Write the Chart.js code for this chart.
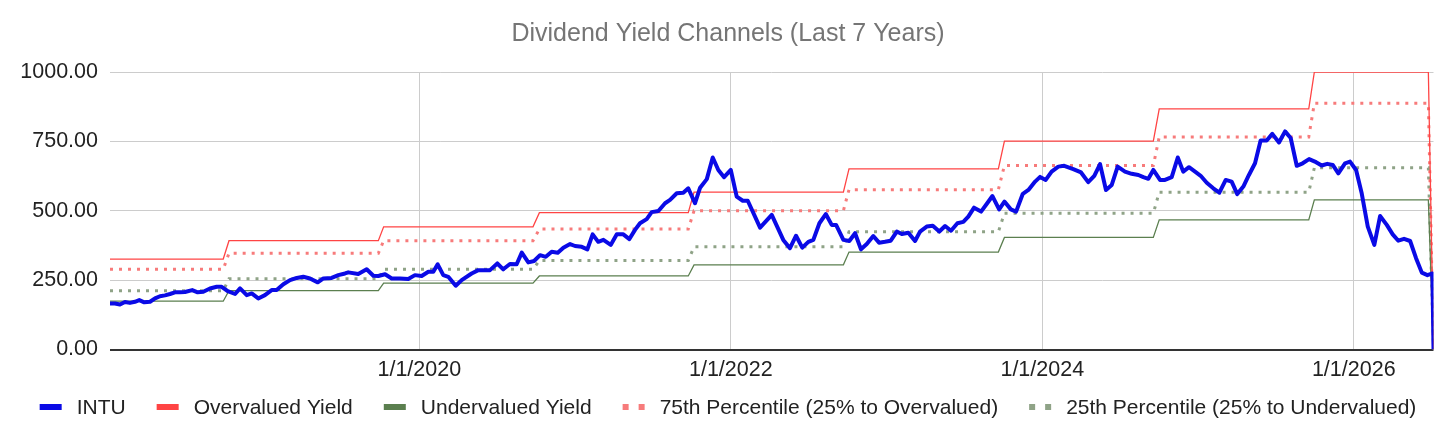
<!DOCTYPE html>
<html>
<head>
<meta charset="utf-8">
<title>Dividend Yield Channels</title>
<script src="https://cdn.jsdelivr.net/npm/chart.js@4.4.1/dist/chart.umd.min.js"></script>
<style>
  html, body { margin: 0; padding: 0; background: #fff; }
  #wrap { width: 1456px; height: 440px; }
</style>
</head>
<body>
<div id="wrap"><canvas id="yieldChart"></canvas></div>
<script>
// Dates are decimal years
const intuDates = [
  2018.014, 2018.046, 2018.078, 2018.110, 2018.142, 2018.174, 2018.202, 2018.234, 2018.271, 2018.303,
  2018.335, 2018.367, 2018.399, 2018.431, 2018.463, 2018.495, 2018.542, 2018.577, 2018.613, 2018.656,
  2018.699, 2018.731, 2018.770, 2018.817, 2018.849, 2018.892, 2018.924, 2018.966, 2019.009, 2019.052,
  2019.084, 2019.127, 2019.170, 2019.213, 2019.255, 2019.298, 2019.348, 2019.384, 2019.437, 2019.480,
  2019.523, 2019.544, 2019.608, 2019.662, 2019.705, 2019.737, 2019.780, 2019.823, 2019.876, 2019.929,
  2019.972, 2020.015, 2020.058, 2020.090, 2020.118, 2020.154, 2020.186, 2020.234, 2020.272, 2020.336,
  2020.379, 2020.454, 2020.501, 2020.539, 2020.582, 2020.625, 2020.658, 2020.700, 2020.737, 2020.775,
  2020.812, 2020.850, 2020.889, 2020.925, 2020.968, 2021.000, 2021.043, 2021.079, 2021.113, 2021.149,
  2021.182, 2021.229, 2021.268, 2021.310, 2021.349, 2021.385, 2021.417, 2021.460, 2021.492, 2021.535,
  2021.578, 2021.610, 2021.653, 2021.695, 2021.727, 2021.770, 2021.803, 2021.846, 2021.884, 2021.920,
  2021.957, 2022.000, 2022.038, 2022.077, 2022.109, 2022.188, 2022.263, 2022.337, 2022.380, 2022.419,
  2022.459, 2022.498, 2022.530, 2022.569, 2022.610, 2022.648, 2022.676, 2022.723, 2022.761, 2022.798,
  2022.836, 2022.873, 2022.915, 2022.952, 2022.990, 2023.027, 2023.066, 2023.098, 2023.140, 2023.183,
  2023.215, 2023.258, 2023.297, 2023.339, 2023.376, 2023.414, 2023.455, 2023.493, 2023.525, 2023.562,
  2023.607, 2023.644, 2023.680, 2023.723, 2023.757, 2023.798, 2023.832, 2023.875, 2023.911, 2023.954,
  2023.986, 2024.022, 2024.060, 2024.103, 2024.141, 2024.199, 2024.249, 2024.295, 2024.334, 2024.371,
  2024.409, 2024.446, 2024.484, 2024.531, 2024.574, 2024.617, 2024.649, 2024.681, 2024.713, 2024.756,
  2024.788, 2024.831, 2024.870, 2024.905, 2024.942, 2024.981, 2025.017, 2025.056, 2025.098, 2025.137,
  2025.178, 2025.216, 2025.252, 2025.291, 2025.327, 2025.366, 2025.402, 2025.441, 2025.477, 2025.520,
  2025.559, 2025.595, 2025.634, 2025.672, 2025.713, 2025.758, 2025.794, 2025.830, 2025.865, 2025.901,
  2025.944, 2025.976, 2026.015, 2026.051, 2026.090, 2026.132, 2026.169, 2026.212, 2026.250, 2026.286,
  2026.323, 2026.362, 2026.400, 2026.437, 2026.473, 2026.505, 2026.512
];
const intuValues = [
  166, 166, 162, 171, 168, 172, 178, 170, 172, 184,
  192, 195, 200, 206, 206, 207, 214, 206, 208, 220,
  226, 226, 210, 200, 220, 196, 202, 184, 196, 214,
  214, 235, 250, 258, 262, 256, 242, 256, 258, 268,
  274, 278, 272, 289, 266, 265, 271, 256, 256, 254,
  268, 265, 280, 280, 307, 268, 262, 230, 250, 274,
  286, 286, 310, 289, 308, 307, 349, 314, 319, 340,
  334, 352, 349, 367, 380, 373, 370, 361, 415, 388,
  395, 377, 415, 415, 398, 431, 455, 470, 495, 499,
  527, 539, 563, 565, 581, 527, 583, 614, 692, 647,
  621, 647, 551, 536, 536, 439, 485, 395, 365, 410,
  367, 388, 395, 455, 488, 449, 449, 395, 391, 419,
  361, 380, 409, 385, 388, 392, 425, 416, 421, 391,
  425, 443, 446, 425, 445, 428, 455, 460, 479, 511,
  497, 525, 553, 505, 533, 505, 497, 561, 575, 605,
  622, 611, 641, 659, 662, 650, 638, 603, 626, 668,
  575, 593, 659, 641, 633, 629, 621, 615, 647, 611,
  611, 621, 692, 641, 657, 641, 626, 601, 581, 565,
  611, 605, 560, 587, 629, 671, 753, 753, 777, 746,
  786, 762, 662, 671, 686, 675, 663, 669, 665, 635,
  671, 677, 647, 563, 443, 377, 481, 449, 415, 392,
  399, 391, 329, 277, 268, 274, 0
];

// Channel lines change once a year, each step takes one data interval
const channelDates = [
  2018.014, 2018.741, 2018.778, 2019.737, 2019.771, 2020.730, 2020.771, 2021.727, 2021.764,
  2022.723, 2022.759, 2023.718, 2023.757, 2024.713, 2024.751, 2025.711, 2025.747, 2026.479, 2026.512
];
const overValues  = [326, 326, 392, 392, 442, 442, 493, 493, 567, 567, 651, 651, 751, 751, 867, 867, 1000, 1000, 0];
const p75Values   = [289, 289, 347, 347, 392, 392, 434, 434, 500, 500, 576, 576, 663, 663, 766, 766, 887, 887, 0];
const p25Values   = [212, 212, 255, 255, 289, 289, 321, 321, 370, 370, 424, 424, 491, 491, 567, 567, 655, 655, 0];
const underValues = [174, 174, 212, 212, 239, 239, 265, 265, 305, 305, 351, 351, 404, 404, 467, 467, 539, 539, 0];

const xTickYears  = [2020, 2022, 2024, 2026];
const xTickLabels = ['1/1/2020', '1/1/2022', '1/1/2024', '1/1/2026'];
const yTicks      = [0, 250, 500, 750, 1000];

const seriesNames = [
  'INTU',
  'Overvalued Yield',
  'Undervalued Yield',
  '75th Percentile (25% to Overvalued)',
  '25th Percentile (25% to Undervalued)'
];

const FONT = "'Liberation Sans', Arial, sans-serif";

function toPoints(xs, ys) {
  return xs.map((x, i) => ({ x: x, y: ys[i] }));
}

// legend drawn under the axis: short bar for solid lines, two squares for dotted ones
const bottomLegend = {
  id: 'bottomLegend',
  afterDraw(chart) {
    const c = chart.ctx;
    const swatch = 22, textGap = 15, itemGap = 31, y = 407;
    c.save();
    c.font = '21px ' + FONT;
    c.textBaseline = 'middle';
    c.textAlign = 'left';
    const items = chart.data.datasets.map(ds => ({ ds: ds, w: c.measureText(ds.label).width }));
    const total = items.reduce((s, it) => s + swatch + textGap + it.w, 0) + itemGap * (items.length - 1);
    let x = chart.width / 2 - total / 2;
    items.forEach(it => {
      c.fillStyle = it.ds.borderColor;
      if (it.ds.borderDash) {
        c.fillRect(x, y - 3, 6, 6);
        c.fillRect(x + 16, y - 3, 6, 6);
      } else {
        c.fillRect(x, y - 3, swatch, 6);
      }
      c.fillStyle = '#222';
      c.fillText(it.ds.label, x + swatch + textGap, y + 1);
      x += swatch + textGap + it.w + itemGap;
    });
    c.restore();
  }
};

Chart.defaults.font.family = FONT;
Chart.defaults.color = '#222';

const ctx = document.getElementById('yieldChart').getContext('2d');

const chart = new Chart(ctx, {
  type: 'line',
  data: {
    datasets: [
      {
        label: seriesNames[0],
        data: toPoints(intuDates, intuValues),
        borderColor: '#0a0ae6',
        borderWidth: 4,
        borderJoinStyle: 'round'
      },
      {
        label: seriesNames[1],
        data: toPoints(channelDates, overValues),
        borderColor: '#ff4444',
        borderWidth: 1.3
      },
      {
        label: seriesNames[2],
        data: toPoints(channelDates, underValues),
        borderColor: '#5b7f4f',
        borderWidth: 1.3
      },
      {
        label: seriesNames[3],
        data: toPoints(channelDates, p75Values),
        borderColor: '#f77b7b',
        borderWidth: 3,
        borderDash: [3, 6]
      },
      {
        label: seriesNames[4],
        data: toPoints(channelDates, p25Values),
        borderColor: '#8fa387',
        borderWidth: 3,
        borderDash: [3, 6]
      }
    ]
  },
  options: {
    responsive: true,
    maintainAspectRatio: false,
    animation: false,
    layout: { padding: 0 },
    elements: {
      point: { radius: 0, hoverRadius: 0 },
      line: { tension: 0, fill: false }
    },
    plugins: {
      tooltip: { enabled: false },
      legend: { display: false },
      title: {
        display: true,
        text: 'Dividend Yield Channels (Last 7 Years)',
        color: '#757575',
        font: { size: 25, weight: 'normal' },
        padding: { top: 19, bottom: 23 }
      }
    },
    scales: {
      x: {
        type: 'linear',
        min: intuDates[0],
        max: intuDates[intuDates.length - 1],
        afterFit: (s) => { s.height = 90.5; },
        afterBuildTicks: (s) => { s.ticks = xTickYears.map(v => ({ value: v })); },
        grid: { color: '#cccccc', lineWidth: 1, drawTicks: false },
        border: { display: false },
        ticks: {
          padding: 8,
          font: { size: 21.5 },
          color: '#222',
          maxRotation: 0,
          autoSkip: false,
          callback: (v, i) => xTickLabels[i]
        }
      },
      y: {
        min: yTicks[0],
        max: yTicks[yTicks.length - 1],
        afterFit: (s) => { s.width = 110; },
        afterBuildTicks: (s) => { s.ticks = yTicks.map(v => ({ value: v })); },
        grid: {
          drawTicks: false,
          color: (c) => c.tick && c.tick.value === 0 ? '#333333' : '#cccccc',
          lineWidth: (c) => c.tick && c.tick.value === 0 ? 2 : 1
        },
        border: { display: false },
        ticks: {
          padding: 12,
          font: { size: 21.5 },
          color: '#222',
          callback: (v) => Number(v).toFixed(2)
        }
      },
      yRight: {
        position: 'right',
        display: true,
        afterFit: (s) => { s.width = 22.5; },
        grid: { display: false },
        border: { display: false },
        ticks: { display: false }
      }
    }
  },
  plugins: [bottomLegend]
});
</script>
</body>
</html>
